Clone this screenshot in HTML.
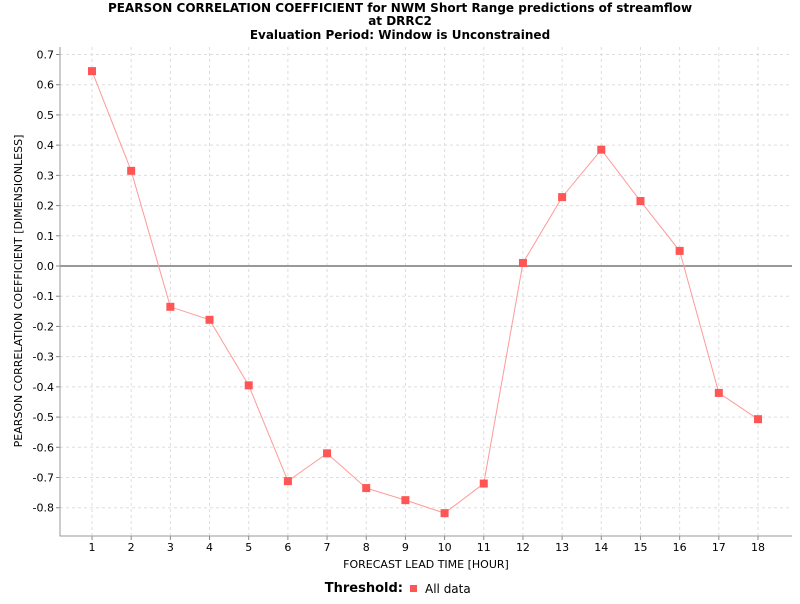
<!DOCTYPE html>
<html><head><meta charset="utf-8"><style>
body{margin:0;background:#fff;font-family:"DejaVu Sans","Liberation Sans",sans-serif}
svg text{font-family:"DejaVu Sans","Liberation Sans",sans-serif}
</style></head><body>
<svg id="c" width="800" height="600" xmlns="http://www.w3.org/2000/svg">
<text x="400" y="12" text-anchor="middle" font-size="12" font-weight="bold">PEARSON CORRELATION COEFFICIENT for NWM Short Range predictions of streamflow</text>
<text x="400" y="25" text-anchor="middle" font-size="12" font-weight="bold">at DRRC2</text>
<text x="400" y="39" text-anchor="middle" font-size="12" font-weight="bold">Evaluation Period: Window is Unconstrained</text>
<g id="grid"></g><g id="axes"></g><g id="series"></g>
<text x="426" y="568" text-anchor="middle" font-size="11">FORECAST LEAD TIME [HOUR]</text>
<text transform="translate(22,291) rotate(-90)" text-anchor="middle" font-size="11">PEARSON CORRELATION COEFFICIENT [DIMENSIONLESS]</text>
<g>
<text x="403" y="592" text-anchor="end" font-size="13" font-weight="bold">Threshold:</text>
<rect x="410" y="585" width="7" height="7" fill="#ff5555"/>
<text x="425" y="593" font-size="12">All data</text>
</g>
</svg>
<script>
const categories=[1,2,3,4,5,6,7,8,9,10,11,12,13,14,15,16,17,18];
const values=[0.645,0.315,-0.135,-0.178,-0.395,-0.712,-0.62,-0.735,-0.775,-0.818,-0.72,0.01,0.228,0.385,0.215,0.05,-0.42,-0.507];
const yTicks=[0.7,0.6,0.5,0.4,0.3,0.2,0.1,0.0,-0.1,-0.2,-0.3,-0.4,-0.5,-0.6,-0.7,-0.8];
const L=60,R=792,T=47,B=536;
const xs=v=>92+(v-1)*(758-92)/17;
const ys=v=>266-v*(266-54.5)/0.7;
const NS="http://www.w3.org/2000/svg";
function mk(p,t,a){const e=document.createElementNS(NS,t);for(const k in a)e.setAttribute(k,a[k]);p.appendChild(e);return e;}
const g=document.getElementById('grid'),ax=document.getElementById('axes'),s=document.getElementById('series');
yTicks.forEach(v=>{const y=ys(v);
const l=mk(g,'line',{x1:L,x2:R,y1:y,y2:y,stroke:'#dddddd','stroke-dasharray':'3,3'});


const tk=mk(ax,'line',{x1:L-4,x2:L,y1:y,y2:y,stroke:'#888'});


const t=mk(ax,'text',{x:L-6,y:y+4,'text-anchor':'end','font-size':'11'});t.textContent=v.toFixed(1);

});
categories.forEach(c=>{const x=xs(c);
const l=mk(g,'line',{x1:x,x2:x,y1:T,y2:B,stroke:'#dddddd','stroke-dasharray':'3,3'});


const tk=mk(ax,'line',{x1:x,x2:x,y1:B,y2:B+4,stroke:'#888'});


const t=mk(ax,'text',{x:x,y:B+15,'text-anchor':'middle','font-size':'11'});t.textContent=c;

});
const z=mk(ax,'line',{x1:L,x2:R,y1:ys(0),y2:ys(0),stroke:'#999','stroke-width':2});


const fr=mk(ax,'path',{d:`M${L},${T}V${B}H${R}`,fill:'none',stroke:'#999'});


const pl=mk(s,'polyline',{points:categories.map((c,i)=>xs(c)+','+ys(values[i])).join(' '),fill:'none',stroke:'#ff9999','stroke-width':1});


categories.forEach((c,i)=>{const r=mk(s,'rect',{x:xs(c)-4,y:ys(values[i])-4,width:8,height:8,fill:'#ff5555'});

});
</script>
</body></html>
